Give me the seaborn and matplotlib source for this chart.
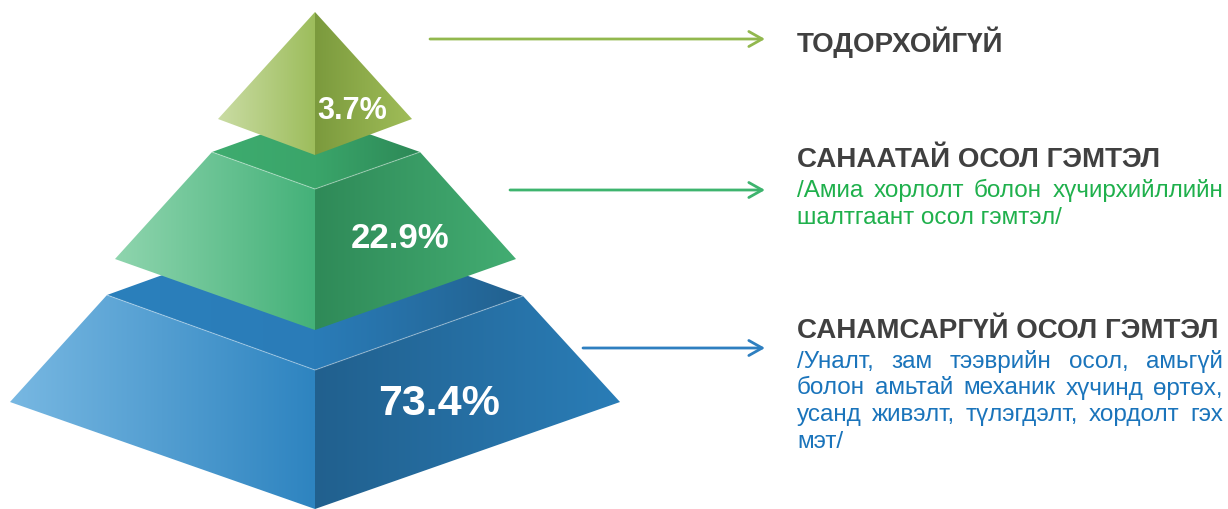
import numpy as np
import matplotlib
matplotlib.use("Agg")
import matplotlib.pyplot as plt
from matplotlib.patches import Polygon
import seaborn as sns

# Данные
categories = ["ТОДОРХОЙГҮЙ", "САНААТАЙ ОСОЛ ГЭМТЭЛ", "САНАМСАРГҮЙ ОСОЛ ГЭМТЭЛ"]
shares = [3.7, 22.9, 73.4]
desc_lines = [
    [],
    ["/Амиа хорлолт болон хүчирхийллийн", "шалтгаант осол гэмтэл/"],
    ["/Уналт, зам тээврийн осол, амьгүй",
     "болон амьтай механик хүчинд өртөх,",
     "усанд живэлт, түлэгдэлт, хордолт гэх",
     "мэт/"],
]

sns.set_theme(style="white")
plt.rcParams['font.family'] = ['Liberation Sans', 'DejaVu Sans']

W, H = 1228, 509
fig = plt.figure(figsize=(W / 100, H / 100), dpi=100)
ax = fig.add_axes([0, 0, 1, 1])
ax.axis('off')

# геометрия ярусов (пиксели): top face / left face / right face
cx = 315
tiers = [
    # верх (пирамида)
    dict(top=None,
         left=[(cx, 12), (218, 119), (cx, 155)],
         right=[(cx, 12), (cx, 155), (412, 119)],
         c_left=("#cadca4", "#9dbd5c"), c_right=("#7b9a3d", "#a0bd58"),
         label=(352, 111), fs=22,
         arrow=(430, 765, 39), arrow_c="#92b84e",
         text_c="#1fb04c", head_y=42),
    # середина
    dict(top=[(212, 152), (cx, 115), (420, 152), (cx, 189)],
         left=[(212, 152), (cx, 189), (cx, 330), (115, 259)],
         right=[(cx, 189), (420, 152), (516, 259), (cx, 330)],
         c_top=("#3eac6f", "#3aa56a", "#2d8957"),
         c_left=("#8fd5ae", "#44b179"), c_right=("#2f8a58", "#43ad72"),
         label=(400, 238), fs=25,
         arrow=(510, 765, 190), arrow_c="#3eb46e",
         text_c="#1fb04c", head_y=157),
    # низ
    dict(top=[(107, 295), (cx, 220), (523, 296), (cx, 370)],
         left=[(107, 295), (cx, 370), (cx, 509), (10, 402)],
         right=[(cx, 370), (523, 296), (620, 402), (cx, 509)],
         c_top=("#2b80bc", "#2a7cb8", "#22618f"),
         c_left=("#78b8e2", "#2e84c0"), c_right=("#21608e", "#2a7db7"),
         label=(439, 404), fs=31,
         arrow=(583, 765, 348), arrow_c="#2e7fc0",
         text_c="#1a74bb", head_y=328),
]


def shade(poly, colors, z):
    patch = Polygon(poly, closed=True, facecolor='none', edgecolor='none', zorder=z)
    ax.add_patch(patch)
    xs = [p[0] for p in poly]
    ys = [p[1] for p in poly]
    cmap = sns.blend_palette(list(colors), as_cmap=True)
    grad = np.linspace(0, 1, 256).reshape(1, -1)
    im = ax.imshow(grad, cmap=cmap, aspect='auto', interpolation='bilinear',
                   extent=(min(xs), max(xs), max(ys), min(ys)), zorder=z)
    im.set_clip_path(patch)


z = 1
for t in reversed(tiers):
    if t['top'] is not None:
        shade(t['top'], t['c_top'], z)
        z += 1
    shade(t['left'], t['c_left'], z)
    shade(t['right'], t['c_right'], z)
    if t['top'] is not None:
        tp = t['top']
        ax.plot([tp[0][0], tp[3][0], tp[2][0]], [tp[0][1], tp[3][1], tp[2][1]],
                color="white", alpha=0.35, lw=0.8, zorder=z + 0.5)
    z += 1

for t, v in zip(tiers, shares):
    ax.text(t['label'][0], t['label'][1], f"{v}%", color="white", fontsize=t['fs'],
            fontweight='bold', ha='center', va='center', zorder=20)

# стрелки
for t in tiers:
    x0, x1, y = t['arrow']
    ax.annotate("", xy=(x1, y), xytext=(x0, y),
                arrowprops=dict(arrowstyle="->,head_length=0.8,head_width=0.45",
                                color=t['arrow_c'], lw=2.0, shrinkA=0, shrinkB=0))

fig.canvas.draw()
renderer = fig.canvas.get_renderer()
text_x, text_right = 797, 1223
desc_fs = 17.5


def justify(line, y, color, last):
    words = line.split(" ")
    if last or len(words) == 1:
        ax.text(text_x, y, line, color=color, fontsize=desc_fs, va='baseline', ha='left')
        return
    arts = [ax.text(0, y, w, color=color, fontsize=desc_fs, va='baseline', ha='left')
            for w in words]
    widths = [a.get_window_extent(renderer).width for a in arts]
    gap = (text_right - text_x - sum(widths)) / (len(words) - 1)
    x = text_x
    for a, w in zip(arts, widths):
        a.set_x(x)
        x += w + gap


for t, name, lines in zip(tiers, categories, desc_lines):
    ax.text(text_x, t['head_y'] + 10, name, color="#404040", fontsize=20,
            fontweight='bold', va='baseline', ha='left')
    for i, line in enumerate(lines):
        justify(line, t['head_y'] + 40 + i * 26.5, t['text_c'], i == len(lines) - 1)

ax.set_xlim(0, W)
ax.set_ylim(H, 0)
fig.savefig("out.png", dpi=100, facecolor="white")
